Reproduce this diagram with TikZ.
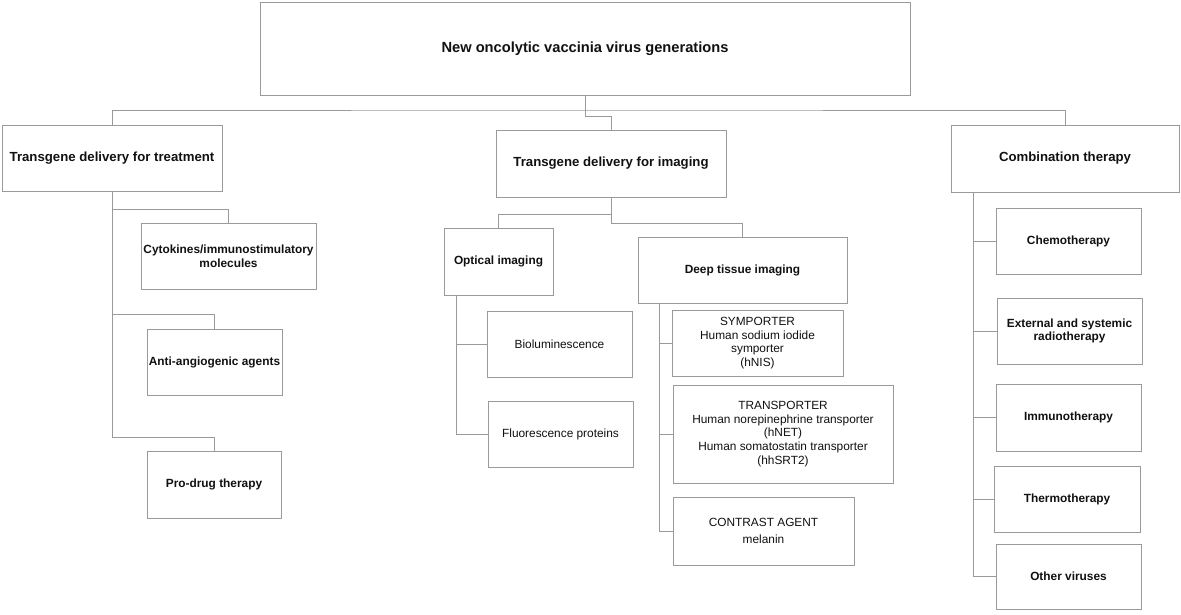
\documentclass[tikz,border=0pt]{standalone}
\usepackage{fontspec}
\setmainfont{Liberation Sans}
\definecolor{linegray}{HTML}{9A9A9A}
\definecolor{txt}{HTML}{111111}
\begin{document}
\begin{tikzpicture}[x=0.75pt,y=-0.75pt,
  bx/.style 2 args={draw=linegray, line width=0.75pt, fill=white, inner sep=0pt, outer sep=0pt,
     minimum width={#1*0.75pt}, minimum height={#2*0.75pt}, align=center, text=txt},
  fbig/.style={font=\fontsize{11}{13}\selectfont\bfseries},
  fmid/.style={font=\fontsize{9.9}{12}\selectfont\bfseries},
  fsmb/.style={font=\fontsize{8.9}{10.2}\selectfont\bfseries},
  fsm/.style={font=\fontsize{8.9}{10.2}\selectfont},
  conn/.style={draw=linegray, line width=0.75pt}]
\useasboundingbox (0,0) rectangle (1181,614);
% main nodes
\node[bx={650}{93}, fbig] (top) at (585,48.5) {New oncolytic vaccinia virus generations};
\node[bx={220}{66}, fmid] (treat) at (112,158) {Transgene delivery for treatment};
\node[bx={230}{67}, fmid] (imag) at (611,163.5) {Transgene delivery for imaging};
\node[bx={228}{67}, fmid] (comb) at (1065,158.5) {Combination therapy};
% treatment children
\node[bx={175}{66}, fsmb] (cyto) at (228.5,256) {Cytokines/immunostimulatory\\molecules};
\node[bx={135}{66}, fsmb] (anti) at (214.5,362) {Anti-angiogenic agents};
\node[bx={134}{67}, fsmb] (pro) at (214,484.5) {Pro-drug therapy};
% imaging children
\node[bx={109}{67}, fsmb] (opt) at (498.5,261.5) {Optical imaging};
\node[bx={209}{66}, fsmb] (deep) at (742.5,270) {Deep tissue imaging};
\node[bx={145}{66}, fsm] (bio) at (559.5,344) {Bioluminescence};
\node[bx={145}{66}, fsm] (fluo) at (560.5,434) {Fluorescence proteins};
\node[bx={171}{66}, fsm] (sym) at (757.5,343) {SYMPORTER\\Human sodium iodide\\symporter\\(hNIS)};
\node[bx={220}{98}, fsm] (trans) at (783,434) {TRANSPORTER\\Human norepinephrine transporter\\(hNET)\\Human somatostatin transporter\\(hhSRT2)};
\node[bx={181}{68}, fsm] (contr) at (763.5,531) {CONTRAST AGENT\\[2.5pt]melanin};
% combination children
\node[bx={145}{66}, fsmb] (chemo) at (1068.5,241) {Chemotherapy};
\node[bx={145}{66}, fsmb] (ext) at (1069.5,331) {External and systemic\\radiotherapy};
\node[bx={145}{67}, fsmb] (immu) at (1068.5,417.5) {Immunotherapy};
\node[bx={146}{66}, fsmb] (thermo) at (1067,499) {Thermotherapy};
\node[bx={145}{65}, fsmb] (other) at (1068.5,576.5) {Other viruses};
% junction coordinates
\coordinate (bus) at (585,110);
\coordinate (j1) at (585,116);
\coordinate (t1) at (112,209);
\coordinate (t2) at (112,314);
\coordinate (t3) at (112,437);
\coordinate (i1) at (611,214);
\coordinate (i2) at (611,223);
\coordinate (o0) at (456,295);
\coordinate (d0) at (659,303);
\coordinate (c0) at (973,192);
% connectors
\draw[conn] (treat.north) |- (bus) -| (comb.north);
\draw[conn] (top.south) -- (j1) -| (imag.north);
\draw[conn] (treat.south) -- (t3) -| (pro.north);
\draw[conn] (t1) -| (cyto.north);
\draw[conn] (t2) -| (anti.north);
\draw[conn] (imag.south) -- (i2) -| (deep.north);
\draw[conn] (i1) -| (opt.north);
\draw[conn] (o0) |- (fluo.west);
\draw[conn] (bio.west) -- (bio.west -| o0);
\draw[conn] (d0) |- (contr.west);
\draw[conn] (sym.west) -- (sym.west -| d0);
\draw[conn] (trans.west) -- (trans.west -| d0);
\draw[conn] (c0) |- (other.west);
\draw[conn] (chemo.west) -- (chemo.west -| c0);
\draw[conn] (ext.west) -- (ext.west -| c0);
\draw[conn] (immu.west) -- (immu.west -| c0);
\draw[conn] (thermo.west) -- (thermo.west -| c0);
\end{tikzpicture}
\end{document}
